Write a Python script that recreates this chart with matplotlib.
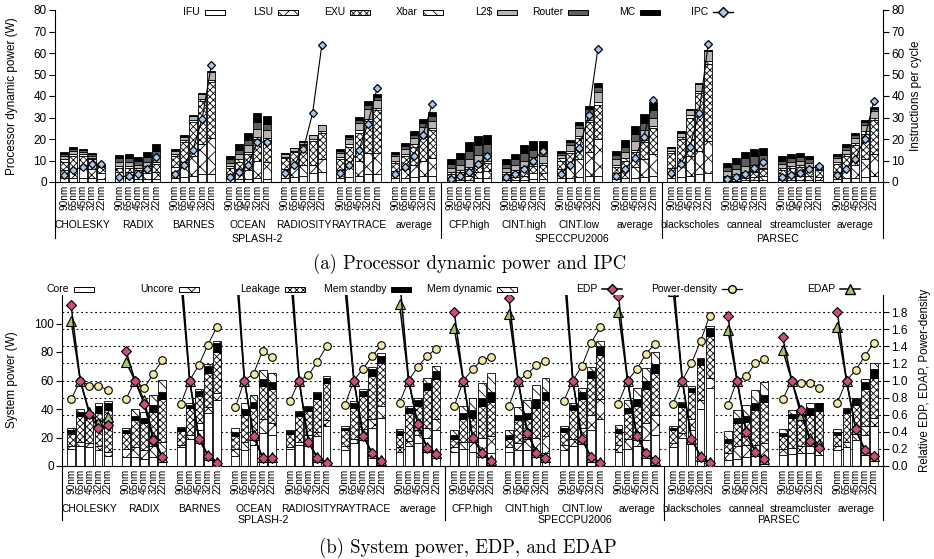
import matplotlib
matplotlib.use('Agg')
import matplotlib.pyplot as plt
from matplotlib.patches import Rectangle
from matplotlib.lines import Line2D
import matplotlib.transforms as mtrans

plt.rcParams['font.family'] = ['Liberation Sans', 'DejaVu Sans']
plt.rcParams['hatch.linewidth'] = 0.6

# ---------------- data ----------------
nodes = ['90nm', '65nm', '45nm', '32nm', '22nm']
groups = ['CHOLESKY', 'RADIX', 'BARNES', 'OCEAN', 'RADIOSITY', 'RAYTRACE', 'average',
          'CFP.high', 'CINT.high', 'CINT.low', 'average',
          'blackscholes', 'canneal', 'streamcluster', 'average']
suites = ['SPLASH-2', 'SPECCPU2006', 'PARSEC']

# (a) processor dynamic power components (W), 5 nodes per group
ifu = [2, 2, 2, 2, 1.5,  2, 2, 1.5, 1.5, 1.5,  2, 2.5, 3, 3.5, 3.5,  1.5, 1.5, 1.5, 2, 1.5,
       2, 2.5, 3, 4, 4.5,  2, 2.5, 3, 3.5, 3.5,  2, 2, 2.5, 3, 3,
       1, 1, 1, 2, 2,  1, 1, 1, 1.5, 1.5,  2, 2, 2.5, 3, 3,  1.5, 2, 2, 2.5, 3,
       2, 2.5, 3, 3.5, 4,  0.5, 0.5, 1, 1, 1,  1, 1, 1, 1, 1,  1.5, 2, 2, 2.5, 3]
lsu = [3.5, 4, 4.5, 4, 2.5,  2.5, 2.5, 2, 2.5, 3,  5, 7, 9, 14, 17,  2, 3, 4, 8, 8,
       4, 5, 5, 4, 6,  3.5, 5, 7, 10, 10,  3, 4, 5.5, 7, 8,
       1, 1.5, 2, 2.5, 3,  1, 1.5, 2, 2.5, 2.5,  4, 5.5, 8, 11, 17,  2.5, 3.5, 5, 8, 10,
       4.5, 5.5, 9, 11, 15,  1, 1, 1, 1.5, 2,  1.5, 2, 2, 2, 1.5,  3, 4, 6, 8, 10]
exu = [4, 6, 5.5, 4.5, 3,  2, 2, 2, 2.5, 4,  5, 9, 16, 20, 26,  3, 5, 7.5, 10, 10,
       5, 6.5, 9, 11, 12.5,  5, 9, 13, 15, 20,  4, 6, 8.5, 11, 13,
       1.5, 2, 3, 3, 4,  1.5, 2, 3, 3.5, 4,  4, 6, 10, 14, 16,  3, 4.5, 7, 8, 12,
       7, 12, 18, 27, 36,  1, 1.5, 2, 2, 3,  3, 3.5, 4, 3.5, 3,  4, 6, 9, 12, 16]
xbar = [1, 1, 0.8, 0.8, 0.5,  1, 1, 0.8, 0.8, 1,  1, 1, 1, 1, 1,  0.8, 1, 1, 1, 1,
        0.5, 0.5, 0.5, 0.8, 0.5,  1, 1, 1, 1, 1,  1, 1, 1, 1, 1,
        1, 1, 1, 1, 1,  1, 1, 1, 1, 1,  1, 1, 1, 1, 1,  1, 1, 1, 1, 1,
        1, 1, 1, 1, 1.5,  0.5, 0.5, 0.5, 0.5, 0.5,  1, 1, 1, 0.5, 0.5,  1, 1, 1, 1, 1]
l2 = [1.5, 1.5, 1.2, 1, 0.6,  2, 2, 1.8, 2, 2.5,  1.5, 1.5, 1.5, 2.5, 3.5,  1.7, 2.5, 3, 3.5, 3.5,
      1.5, 1.3, 1.3, 2, 2.8,  2, 2.5, 3.5, 4.5, 3.5,  2, 2.5, 3, 3.5, 3.5,
      2, 2.5, 3.5, 4, 3.5,  2, 2.5, 3, 3, 3,  1.5, 2.5, 3.5, 3, 5,  2.5, 3, 4, 4.5, 4,
      1.5, 2, 2.5, 3, 4.5,  2, 2.5, 3, 3, 3,  2, 2, 2, 2, 1,  1.5, 2, 2.5, 3, 3]
router = [1, 1, 0.8, 0.6, 0.2,  1.5, 1.7, 1.7, 2.2, 2.5,  0.5, 0.5, 0.3, 0.3, 0.3,  1.5, 2, 2.5, 3.5, 3,
          0.3, 0.1, 0.1, 0.1, 0.1,  1, 1, 1.5, 2, 1.5,  1, 1.3, 1.5, 2, 2,
          2, 2.5, 4, 4.5, 4,  2, 2.5, 3.5, 3.5, 3,  1, 1.5, 1.5, 2, 2,  2, 2.5, 3.5, 3.5, 3.5,
          0.3, 0.3, 0.3, 0.3, 0.3,  2, 2.5, 3.5, 4, 3,  1.5, 1.5, 1.5, 1.5, 0.5,  1, 1.3, 1.3, 1.3, 1]
mc = [1, 1, 0.7, 0.6, 0.2,  1.5, 1.8, 1.7, 2.5, 3,  0.5, 0.5, 0.2, 0.2, 0.2,  1.5, 2.5, 3.5, 4, 3.5,
      0.2, 0.1, 0.1, 0.1, 0.1,  1, 1, 1, 1.5, 1.5,  1, 1.2, 1.5, 2, 2,
      2, 3, 4, 4.5, 4.5,  2, 2.5, 3.5, 4, 4,  1, 1, 1.5, 1.5, 2,  2, 3, 3.5, 4, 3.5,
      0.2, 0.2, 0.2, 0.2, 0.2,  2, 2.5, 3, 3.5, 3.5,  2, 2, 2, 1.5, 0.5,  1, 1.2, 1.2, 1.2, 1]
ipc = [3.3, 5.6, 7, 8.5, 8.2,  2.4, 2.9, 3.6, 6, 11.4,  3.9, 7.7, 15.1, 29.5, 54.6,  2.2, 4.6, 8.1, 18.6, 18.6,
       4.1, 7.8, 15.3, 32, 63.6,  4.2, 8, 14.7, 27, 43.5,  3.7, 7, 12.3, 22, 36.3,
       1.5, 2.8, 4.7, 8.4, 12.3,  2.2, 3.6, 5.9, 10, 14.6,  3.9, 8, 15.7, 31.2, 61.8,  3, 6, 11, 21, 38,
       4.3, 8.2, 16.3, 32, 64,  1.5, 2.3, 3.6, 6.5, 9.5,  2.3, 3.4, 4.2, 6, 7.5,  3.1, 5.9, 10.9, 20.2, 37.6]

# (b) system power components (W)
core = [12, 14, 13, 11, 7,  6.5, 6, 5, 6, 6,  13, 19, 25, 37, 46,  7, 11, 15, 23, 22,
        12, 15, 17, 21, 28,  11, 16, 18, 27, 34,  10, 14, 16, 20, 25,
        10, 12, 10, 10, 9,  10, 11, 11, 10, 9,  11, 14, 18, 25, 33,  10, 12, 14, 18, 22,
        13, 20, 25, 40, 55,  4, 5, 6, 7, 6,  8, 8.5, 9, 9, 8,  11, 13, 18, 22, 28]
uncore = [2, 3, 3, 3, 3,  5.5, 7, 6.5, 8, 11,  2, 2.5, 5, 4.5, 5,  5, 6, 5, 10, 8,
          1.5, 1.5, 5, 3, 4,  3, 3, 8, 6, 8,  3, 3.5, 6, 6.5, 8,
          3, 5, 9, 10, 12,  3, 5, 8, 10, 12,  4, 5, 9, 11, 14,  5, 7, 10, 12, 14,
          3, 3.5, 8, 6, 7,  5, 9, 9, 8, 10,  4, 4, 5, 5, 6,  3, 4, 8, 6, 6]
leakage = [8.5, 18, 18, 23, 29,  11, 19, 19, 24, 30,  9.5, 19, 19, 24, 29,  9, 19, 21, 23, 24,
           9, 18.5, 16.5, 23, 26,  11, 22, 23, 30, 30,  9, 20, 20, 27, 28,
           6, 16, 15, 22, 24,  6, 16, 14, 21, 25,  9, 20, 20, 26, 31,  8, 18, 18, 24, 29,
           9, 18, 19, 25, 29,  7, 16, 16, 24, 29,  9, 21, 19, 22, 24.5,  8, 20, 17, 26, 28]
mem_standby = [2.5, 3, 2, 5, 5,  2, 3, 3, 5, 5,  2, 2.5, 3.5, 5, 6,  3, 4, 4, 5, 5,
               2, 3, 3, 4, 4,  2, 3, 3.5, 5, 5,  2.5, 3, 4, 5, 5.5,
               3, 4, 5, 6, 7,  3, 4, 4.5, 6, 6,  2.5, 3.5, 5, 5, 6.5,  3, 4, 5, 6, 6.5,
               2, 2.5, 3, 4, 6,  3, 3.5, 4, 5, 5,  2.5, 3, 3.5, 5, 5.5,  2, 3, 4, 5, 6]
mem_dynamic = [1.5, 2, 2, 2, 1.5,  1.5, 5, 4.5, 7, 8.5,  1, 1, 1.5, 1, 2,  2.5, 4.5, 4.5, 6.5, 6.5,
               0.5, 0.5, 0.5, 1, 1,  1, 1.5, 1.5, 1.5, 2.5,  1.5, 1.5, 2, 3, 3.5,
               3, 5, 9, 10.5, 13,  3, 5.5, 8.5, 9.5, 10,  1.5, 2, 2.5, 2.5, 3,  2.5, 5, 7.5, 8.5, 8.5,
               1, 1, 1, 1, 1,  5.5, 5.5, 7.5, 9, 9,  2.5, 3, 3, 3.5, 0.5,  2, 1, 1, 2, 4.5]
edp = [1.88, 1.0, 0.61, 0.44, 0.48,  1.35, 1.0, 0.73, 0.30, 0.10,  2.4, 1.0, 0.315, 0.12, 0.04,
       2.64, 1.0, 0.35, 0.09, 0.09,  2.55, 1.0, 0.28, 0.09, 0.04,  2.3, 1.0, 0.354, 0.148, 0.06,
       2.2, 1.0, 0.49, 0.21, 0.14,
       1.80, 1.0, 0.33, 0.155, 0.06,  1.97, 1.0, 0.39, 0.155, 0.09,  2.54, 1.0, 0.315, 0.10, 0.04,
       1.99, 1.0, 0.354, 0.148, 0.07,
       2.22, 1.0, 0.315, 0.11, 0.04,  1.76, 1.0, 0.40, 0.167, 0.08,  1.51, 1.0, 0.66, 0.29, 0.21,
       1.80, 1.0, 0.43, 0.187, 0.117]
edap = [1.70, 1.0, 0.63, 0.50, 0.57,  1.22, 1.0, 0.77, 0.34, 0.11,  2.2, 1.0, 0.33, 0.13, 0.045,
        2.4, 1.0, 0.36, 0.10, 0.10,  2.3, 1.0, 0.29, 0.10, 0.045,  2.1, 1.0, 0.36, 0.15, 0.065,
        1.90, 1.0, 0.48, 0.22, 0.155,
        1.61, 1.0, 0.34, 0.16, 0.065,  1.78, 1.0, 0.40, 0.16, 0.10,  2.3, 1.0, 0.32, 0.105, 0.045,
        1.80, 1.0, 0.36, 0.15, 0.075,
        2.05, 1.0, 0.32, 0.115, 0.045,  1.59, 1.0, 0.41, 0.17, 0.085,  1.36, 1.0, 0.60, 0.33, 0.26,
        1.62, 1.0, 0.43, 0.19, 0.12]
power_density = [0.78, 1.0, 0.94, 0.94, 0.89,  0.78, 1.0, 0.91, 1.08, 1.24,  0.72, 1.0, 1.18, 1.42, 1.63,
                 0.685, 1.0, 1.08, 1.35, 1.27,  0.76, 1.0, 1.06, 1.22, 1.40,  0.71, 1.0, 1.14, 1.285, 1.41,
                 0.74, 1.0, 1.16, 1.285, 1.37,
                 0.70, 1.0, 1.13, 1.24, 1.27,  0.70, 1.0, 1.075, 1.18, 1.23,  0.76, 1.0, 1.17, 1.44, 1.62,
                 0.73, 1.0, 1.13, 1.31, 1.43,
                 0.73, 1.0, 1.2, 1.46, 1.76,  0.71, 1.0, 1.05, 1.2, 1.25,  0.78, 1.0, 0.966, 0.97, 0.91,
                 0.74, 1.0, 1.12, 1.285, 1.44]

left_ticks_a = [0, 10, 20, 30, 40, 50, 60, 70, 80]
left_ticks_b = [0, 20, 40, 60, 80, 100]
right_ticks_b = [0.0, 0.2, 0.4, 0.6, 0.8, 1.0, 1.2, 1.4, 1.6, 1.8]

# ---------------- figure ----------------
W, H = 934, 559
fig = plt.figure(figsize=(W / 100, H / 100), dpi=100)


def fx(px):
    return px / W


def fy(py):
    return 1 - py / H


ng = len(groups)
xs = [g * 6 + 1 + i for g in range(ng) for i in range(5)]
xlabels = nodes * ng
suite_bounds = [0, 42, 66, 90]
suite_x = [22, 56.2, 78.5]
FS_TICK = 8.5
FS_SMALL = 7.2
FS_GROUP = 7.4
FS_LEG = 7.5
BW = 0.86


def stack(ax, comps):
    bottom = [0.0] * len(xs)
    for vals, fc, h in comps:
        ax.bar(xs, vals, width=BW, bottom=bottom, color=fc, edgecolor='black',
               linewidth=0.6, hatch=h, zorder=2)
        bottom = [b + v for b, v in zip(bottom, vals)]


def decorate_x(ax, yg, ys, ext):
    ax.set_xlim(0, 90)
    ax.set_xticks(xs)
    ax.set_xticklabels(xlabels, rotation=90, fontsize=FS_SMALL)
    ax.tick_params(axis='x', length=0, pad=2)
    tr = mtrans.blended_transform_factory(ax.transData, ax.transAxes)
    for g, name in enumerate(groups):
        ax.text(g * 6 + 3, yg, name, transform=tr, ha='center', va='center', fontsize=FS_GROUP)
    for sx, name in zip(suite_x, suites):
        ax.text(sx, ys, name, transform=tr, ha='center', va='center', fontsize=FS_GROUP + 0.3)
    for b in suite_bounds:
        ax.plot([b, b], [0, ext], transform=tr, color='black', lw=0.8, clip_on=False)


# ---------- (a) ----------
ax1 = fig.add_axes([fx(55), fy(182), fx(883) - fx(55), fy(10) - fy(182)])
stack(ax1, [(ifu, 'white', None), (lsu, 'white', 'xx'), (exu, 'white', 'xxxxx'),
            (xbar, 'white', '\\\\\\'), (l2, '#b4b4b4', None), (router, '#5e5e5e', None),
            (mc, 'black', None)])
ax1.set_ylim(0, 80)
ax1.set_yticks(left_ticks_a)
ax1.tick_params(axis='y', direction='out', length=4, width=0.8, labelsize=FS_TICK, pad=2)
for s in ['top', 'right']:
    ax1.spines[s].set_visible(False)
decorate_x(ax1, -0.25, -0.331, -0.328)

ax1r = ax1.twinx()
ax1r.set_ylim(0, 80)
ax1r.set_yticks(left_ticks_a)
ax1r.tick_params(axis='y', direction='out', length=4, width=0.8, labelsize=FS_TICK, pad=2)
for s in ['top', 'left', 'bottom']:
    ax1r.spines[s].set_visible(False)
for g in range(ng):
    sl = slice(g * 5, g * 5 + 5)
    ax1r.plot(xs[sl], ipc[sl], color='black', lw=0.8, marker='D', ms=4.5,
              mfc='#a9c6ea', mec='black', mew=0.9, zorder=5)

fig.text(fx(12), fy(96), 'Processor dynamic power (W)', rotation=90, ha='center', va='center', fontsize=8.5)
fig.text(fx(916), fy(96), 'Instructions per cycle', rotation=90, ha='center', va='center', fontsize=8.5)

# ---------- (b) ----------
ax2 = fig.add_axes([fx(62), fy(466), fx(883) - fx(62), fy(295) - fy(466)])
ax2.set_ylim(0, 120)
for v in right_ticks_b[1:]:
    ax2.axhline(v * 60, color='black', ls=(0, (1.6, 2.6)), lw=0.8, zorder=0)
stack(ax2, [(core, 'white', None), (uncore, 'white', 'xx'), (leakage, 'white', 'xxxxx'),
            (mem_standby, 'black', None), (mem_dynamic, 'white', '\\\\\\')])
ax2.set_yticks(left_ticks_b)
ax2.tick_params(axis='y', direction='out', length=4, width=0.8, labelsize=FS_TICK, pad=2)
for s in ['top', 'right']:
    ax2.spines[s].set_visible(False)
decorate_x(ax2, -0.251, -0.316, -0.316)

ax2r = ax2.twinx()
ax2r.set_ylim(0, 2.0)
ax2r.set_yticks(right_ticks_b)
ax2r.set_yticklabels(['%.1f' % t for t in right_ticks_b])
ax2r.tick_params(axis='y', direction='out', length=4, width=0.8, labelsize=FS_TICK, pad=2)
for s in ['top', 'left', 'bottom']:
    ax2r.spines[s].set_visible(False)
for g in range(ng):
    sl = slice(g * 5, g * 5 + 5)
    ax2r.plot(xs[sl], power_density[sl], color='black', lw=0.7, marker='o', ms=5.5,
              mfc='#f1ebab', mec='black', mew=0.8, zorder=3)
    ax2r.plot(xs[sl], edap[sl], color='black', lw=1.1, marker='^', ms=6.5,
              mfc='#a5c86e', mec='black', mew=0.8, zorder=4)
    ax2r.plot(xs[sl], edp[sl], color='black', lw=1.1, marker='D', ms=4.6,
              mfc='#c85078', mec='black', mew=0.8, zorder=5)

fig.text(fx(12), fy(380), 'System power (W)', rotation=90, ha='center', va='center', fontsize=8.5)
fig.text(fx(925), fy(380), 'Relative EDP, EDAP, Power-density', rotation=90, ha='center',
         va='center', fontsize=8.3)

# ---------- legends ----------
def leg_box(px, py, label, fc, hatch=None):
    fig.add_artist(Rectangle((fx(px), fy(py + 2.5)), 20 / W, 5 / H, transform=fig.transFigure,
                             facecolor=fc, edgecolor='black', lw=0.7, hatch=hatch))
    fig.text(fx(px - 5), fy(py), label, ha='right', va='center', fontsize=FS_LEG)


def leg_line(px, py, label, marker, mfc, lw, ms):
    fig.add_artist(Line2D([fx(px), fx(px + 20)], [fy(py), fy(py)], transform=fig.transFigure,
                          color='black', lw=lw))
    fig.add_artist(Line2D([fx(px + 10)], [fy(py)], transform=fig.transFigure, marker=marker,
                          mfc=mfc, mec='black', ms=ms, ls='none'))
    fig.text(fx(px - 5), fy(py), label, ha='right', va='center', fontsize=FS_LEG)


ya = 12
leg_box(205, ya, 'IFU', 'white')
leg_box(278, ya, 'LSU', 'white', 'xx')
leg_box(350, ya, 'EXU', 'white', 'xxxxx')
leg_box(423, ya, 'Xbar', 'white', '\\\\\\')
leg_box(497, ya, 'L2$', '#b4b4b4')
leg_box(568, ya, 'Router', '#5e5e5e')
leg_box(640, ya, 'MC', 'black')
leg_line(713, ya, 'IPC', 'D', '#a9c6ea', 1.0, 5)

yb = 289
leg_box(74, yb, 'Core', 'white')
leg_box(179, yb, 'Uncore', 'white', 'xx')
leg_box(285, yb, 'Leakage', 'white', 'xxxxx')
leg_box(391, yb, 'Mem standby', 'black')
leg_box(497, yb, 'Mem dynamic', 'white', '\\\\\\')
leg_line(602, yb, 'EDP', 'D', '#c85078', 1.1, 5)
leg_line(722, yb, 'Power-density', 'o', '#f1ebab', 0.9, 5.5)
leg_line(840, yb, 'EDAP', '^', '#a5c86e', 1.1, 6.5)

# ---------- captions ----------
cap_font = ['cmr10', 'DejaVu Serif']
fig.text(fx(470), fy(264), '(a) Processor dynamic power and IPC', ha='center', va='center',
         fontsize=13.5, family=cap_font)
fig.text(fx(468), fy(548), '(b) System power, EDP, and EDAP', ha='center', va='center',
         fontsize=13.5, family=cap_font)

fig.savefig('out.png', dpi=100)
